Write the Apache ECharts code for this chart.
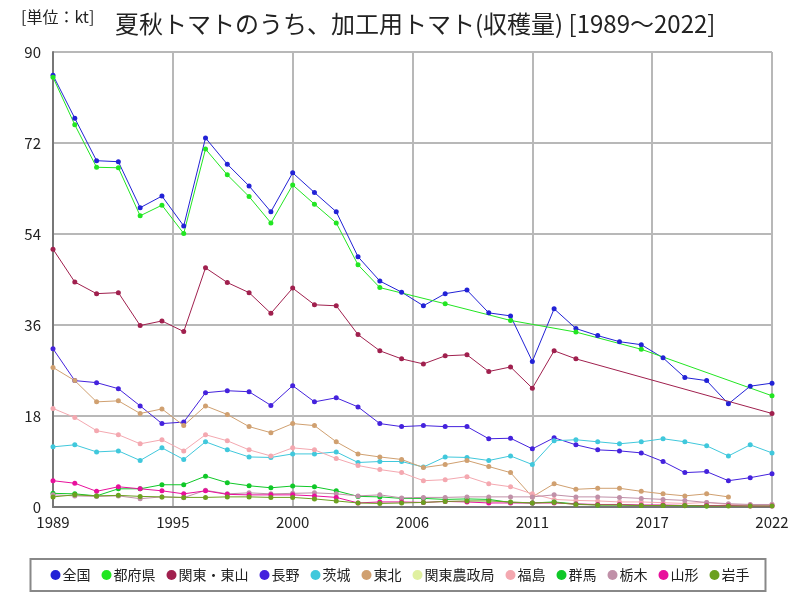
<!DOCTYPE html>
<html><head><meta charset="utf-8">
<script src="https://cdn.jsdelivr.net/npm/echarts@6/dist/echarts.min.js"></script>
<style>html,body{margin:0;padding:0;background:#fff}#c{width:800px;height:600px}</style>
</head><body><div id="c"></div>
<script>
const years = [1989,1990,1991,1992,1993,1994,1995,1996,1997,1998,1999,2000,2001,2002,2003,2004,2005,2006,2007,2008,2009,2010,2011,2012,2013,2014,2015,2016,2017,2018,2019,2020,2021,2022];
const zenkoku = [85.4,76.9,68.5,68.3,59.2,61.5,55.6,73.0,67.8,63.5,58.4,66.1,62.2,58.4,49.5,44.7,42.5,39.8,42.2,42.9,38.4,37.8,28.8,39.2,35.3,33.9,32.7,32.1,29.5,25.6,25.0,20.4,23.9,24.5];
const tofuken = [85.0,75.6,67.2,67.1,57.6,59.7,54.1,70.8,65.7,61.4,56.2,63.7,59.9,56.2,47.9,43.4,null,null,40.2,null,null,36.9,null,null,34.6,null,null,31.2,null,null,null,null,null,22.0];
const kantoTosan = [51.0,44.5,42.2,42.4,35.9,36.8,34.7,47.3,44.4,42.4,38.3,43.3,40.0,39.8,34.1,30.9,29.3,28.3,29.9,30.1,26.8,27.7,23.5,30.9,29.3,null,null,null,null,null,null,null,null,18.5];
const nagano = [31.3,25.0,24.6,23.4,20.0,16.5,16.8,22.6,23.0,22.8,20.1,24.0,20.8,21.6,19.8,16.5,15.9,16.1,15.9,15.9,13.5,13.6,11.5,13.7,12.3,11.3,11.1,10.7,9.0,6.8,7.0,5.2,5.8,6.6];
const ibaraki = [11.9,12.3,10.9,11.1,9.2,11.7,9.4,12.9,11.3,9.9,9.8,10.5,10.5,10.9,8.8,9.0,9.0,7.9,9.9,9.8,9.2,10.1,8.4,13.1,13.3,12.9,12.5,12.9,13.5,12.9,12.1,10.1,12.3,10.7];
const tohoku = [27.6,25.0,20.8,21.0,18.5,19.4,16.1,20.0,18.3,15.9,14.7,16.5,16.1,12.9,10.5,9.9,9.4,7.8,8.4,9.2,8.0,6.8,2.0,4.6,3.5,3.7,3.7,3.1,2.6,2.2,2.6,2.0,null,null];
const kantoNoseikyoku = [null,null,null,null,null,null,null,null,null,null,null,null,null,null,null,null,null,null,null,null,null,null,null,null,null,null,null,null,null,null,null,null,null,null];
const fukushima = [19.5,17.7,15.1,14.3,12.5,13.3,11.1,14.3,13.1,11.3,10.1,11.7,11.3,9.6,8.2,7.4,6.8,5.2,5.4,6.0,4.6,4.0,2.6,1.5,1.3,1.2,1.0,1.0,0.85,0.7,0.9,0.5,0.4,0.5];
const gunma = [2.7,2.6,2.2,3.6,3.6,4.4,4.4,6.1,4.8,4.2,3.8,4.15,4.0,3.2,2.1,2.0,1.7,1.7,1.5,1.6,1.5,0.9,0.8,1.0,0.6,0.4,0.4,0.3,0.3,0.25,0.2,null,null,null];
const tochigi = [2.4,2.2,2.1,2.2,1.65,2.0,1.85,3.3,2.6,2.8,2.6,2.7,2.8,2.6,2.2,2.4,1.8,1.9,1.9,2.0,2.0,2.0,2.0,2.4,2.0,2.0,1.9,1.7,1.5,1.3,0.9,0.65,0.5,0.5];
const yamagata = [5.2,4.7,3.1,4.0,3.6,3.2,2.6,3.2,2.5,2.4,2.4,2.4,2.2,1.9,0.8,1.0,1.0,0.9,1.1,1.0,0.8,0.8,0.8,0.8,0.6,0.5,0.5,0.4,0.4,0.3,0.3,0.3,0.2,0.2];
const iwate = [2.0,2.4,2.2,2.3,2.1,2.0,1.9,1.9,2.0,2.0,1.9,1.9,1.6,1.2,0.8,0.7,0.8,0.9,1.1,1.2,1.2,1.0,0.8,0.9,0.5,0.4,0.4,0.3,0.3,0.3,0.2,0.2,0.2,0.2];
const yTicks = [0,18,36,54,72,90];

const seriesDefs = [
  ['全国', zenkoku, '#2222d6'],
  ['都府県', tofuken, '#22e622'],
  ['関東・東山', kantoTosan, '#a0204e'],
  ['長野', nagano, '#4422dd'],
  ['茨城', ibaraki, '#40c8dc'],
  ['東北', tohoku, '#d0a070'],
  ['関東農政局', kantoNoseikyoku, '#e0f0a0'],
  ['福島', fukushima, '#f4a8b0'],
  ['群馬', gunma, '#10c828'],
  ['栃木', tochigi, '#c090a8'],
  ['山形', yamagata, '#e8109c'],
  ['岩手', iwate, '#6ca020']
];
const base = years[0];
const font = '"Noto Sans CJK JP", "Noto Sans", sans-serif';
const chart = echarts.init(document.getElementById('c'));
chart.setOption({
  animation: false,
  backgroundColor: '#fff',
  title: [
    {text: '[単位：kt]', left: 16, top: 4, textStyle: {fontSize: 16, fontWeight: 'normal', color: '#222', fontFamily: font}},
    {text: '夏秋トマトのうち、加工用トマト(収穫量) [1989～2022]', left: 110, top: 7, textStyle: {fontSize: 24, fontWeight: 'normal', color: '#222', fontFamily: font}}
  ],
  grid: {left: 53, right: 28, top: 52, bottom: 93, containLabel: false},
  xAxis: {
    type: 'value', min: 0, max: years[years.length-1] - base, interval: 5.5,
    axisLine: {show: true, lineStyle: {color: '#777', width: 2}},
    axisTick: {show: false},
    axisLabel: {fontSize: 15, color: '#222', fontFamily: font, margin: 8,
      formatter: v => String(Math.round(v + base))},
    splitLine: {show: true, lineStyle: {color: '#b8b8b8', width: 2}}
  },
  yAxis: {
    type: 'value', min: yTicks[0], max: yTicks[yTicks.length-1], interval: yTicks[1] - yTicks[0],
    axisLine: {show: true, lineStyle: {color: '#777', width: 2}},
    axisTick: {show: false},
    axisLabel: {fontSize: 15, color: '#222', fontFamily: font, margin: 12},
    splitLine: {show: true, lineStyle: {color: '#b8b8b8', width: 2}}
  },
  legend: {
    bottom: 9, left: 'center',
    icon: 'circle', itemWidth: 10, itemHeight: 10, itemGap: 11,
    borderColor: '#888', borderWidth: 2, padding: [9, 16, 9, 20],
    textStyle: {fontSize: 14, color: '#222', fontFamily: font, padding: [0, 0, 0, -3]},
    data: seriesDefs.map(d => d[0])
  },
  series: seriesDefs.map(([name, vals, color]) => ({
    name, type: 'line',
    data: years.map((y, i) => [y - base, vals[i]]).filter(p => p[1] !== null),
    connectNulls: true,
    symbol: 'circle', symbolSize: 5, showSymbol: true,
    itemStyle: {color},
    lineStyle: {color, width: 1},
    emphasis: {disabled: true}
  }))
});
</script></body></html>
